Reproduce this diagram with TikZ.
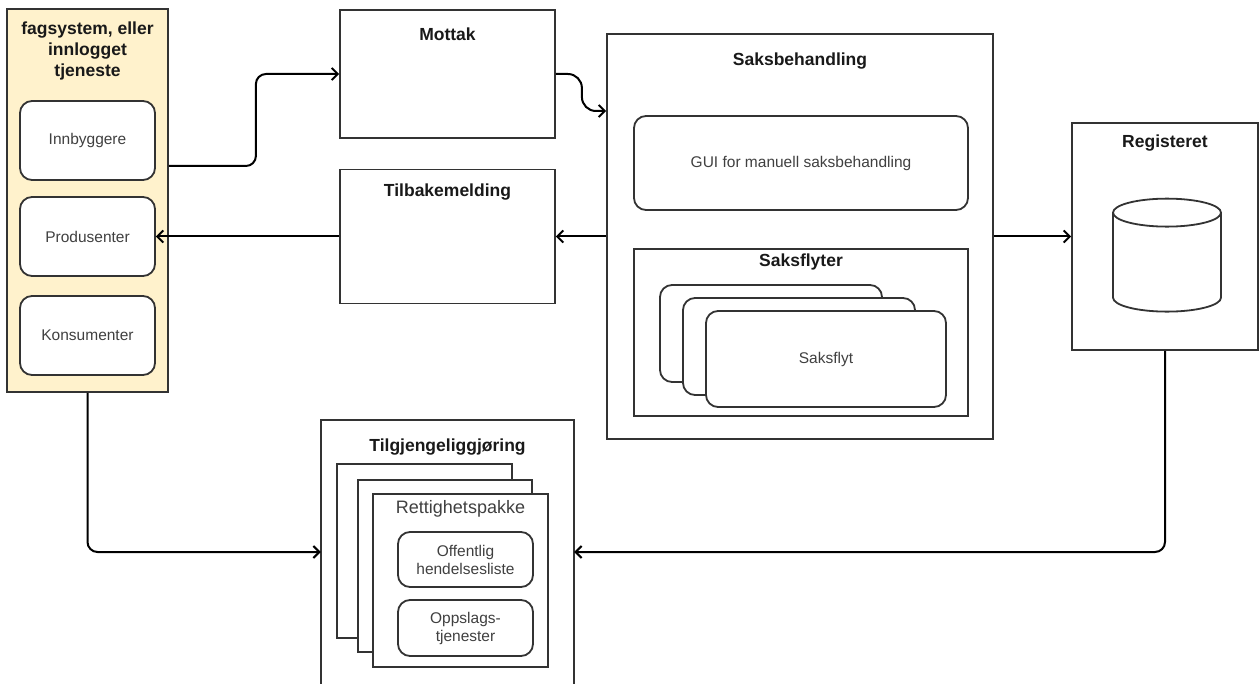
\documentclass[tikz,border=0pt]{standalone}
\usepackage{fontspec}
\setmainfont{Liberation Sans}
\usetikzlibrary{arrows.meta,shapes.geometric}
\definecolor{fagfill}{HTML}{FFF2CC}
\definecolor{linegray}{HTML}{333333}

\begin{document}
\begin{tikzpicture}[x=1pt,y=-1pt,
	box/.style={rectangle,draw=linegray,line width=1.8pt,fill=white,inner sep=0pt},
	rbox/.style={box,rounded corners=12pt,align=center,text=black!75,
		font=\fontsize{15.5}{18}\selectfont},
	ttl/.style={anchor=base,inner sep=0pt,text=black!90,
		font=\fontsize{17.5}{21}\selectfont\bfseries},
	conn/.style={draw=black,line width=2pt,rounded corners=10pt,
		-{Straight Barb[length=6pt,width=12pt]}}]

		\useasboundingbox (0,0) rectangle (1259,684);

		\node[box,fill=fagfill,minimum width=161,minimum height=383] (fag) at (87.5,200.5) {};
		\node[ttl,anchor=north,align=center] (fagttl) at (87.5,21.5) {fagsystem, eller\\innlogget\\tjeneste};
		\node[rbox,minimum width=135,minimum height=79] (innb) at (87.5,140.5) {Innbyggere};
		\node[rbox,minimum width=135,minimum height=79] (prod) at (87.5,236.5) {Produsenter};
		\node[rbox,minimum width=135,minimum height=79] (kons) at (87.5,335.5) {Konsumenter};

		\node[box,minimum width=215,minimum height=128] (mottak) at (447.5,74) {};
		\node[ttl] (mottakttl) at (447.5,41) {Mottak};
		\node[box,minimum width=215,minimum height=134] (tilb) at (447.5,236.5) {};
		\node[ttl] (tilbttl) at (447.5,197) {Tilbakemelding};

		\node[box,minimum width=386,minimum height=405] (saks) at (800,236.5) {};
		\node[ttl] (saksttl) at (800,66) {Saksbehandling};
		\node[rbox,minimum width=334,minimum height=94] (gui) at (801,163) {GUI for manuell saksbehandling};
		\node[box,minimum width=334,minimum height=167] (flyter) at (801,332.5) {};
		\node[ttl] (flyterttl) at (801,267) {Saksflyter};
		\node[rbox,minimum width=222,minimum height=97] (flyta) at (771,333.5) {};
		\node[rbox,minimum width=232,minimum height=97] (flytb) at (799,346.5) {};
		\node[rbox,minimum width=240,minimum height=96] (flytc) at (826,359) {Saksflyt};

		\node[box,minimum width=186,minimum height=227] (reg) at (1165,236.5) {};
		\node[ttl] (regttl) at (1165,148) {Registeret};
		\node[cylinder,shape border rotate=90,aspect=4.2,draw=linegray,line width=1.8pt,
			minimum width=108,minimum height=113] (db) at (1167,265) {};

		\node[minimum width=253,minimum height=264,inner sep=0pt] (tilg) at (447.5,552) {};
		\draw[linegray,line width=1.8pt] (tilg.south west) |- (tilg.north east) -- (tilg.south east);
		\node[ttl] (tilgttl) at (447.5,452) {Tilgjengeliggjøring};
		\node[box,minimum width=175,minimum height=174] (pakkea) at (424.5,551) {};
		\node[box,minimum width=174,minimum height=172] (pakkeb) at (445,566) {};
		\node[box,minimum width=175,minimum height=173] (pakkec) at (460.5,580.5) {};
		\node[anchor=base,inner sep=0pt,text=black!75,font=\fontsize{18}{21}\selectfont]
			(pakkettl) at (460.5,514) {Rettighetspakke};
		\node[rbox,minimum width=135,minimum height=55] (offl) at (465.5,559.5) {Offentlig\\hendelsesliste};
		\node[rbox,minimum width=135,minimum height=56] (opps) at (465.5,628) {Oppslags-\\tjenester};

		\draw[conn] ([yshift=34.5pt]fag.east) -- ++(87,0) |- (mottak.west);
		\draw[conn,rounded corners=14pt] (mottak.east) -- ++(26,0) |- ([yshift=125.5pt]saks.west);
		\draw[conn] (saks.west) -- (tilb.east);
		\draw[conn] (tilb.west) -- (prod.east);
		\draw[conn] (saks.east) -- (reg.west);
		\draw[conn] (reg.south) |- (tilg.east);
		\draw[conn] (fag.south) |- (tilg.west);
	\end{tikzpicture}
\end{document}
